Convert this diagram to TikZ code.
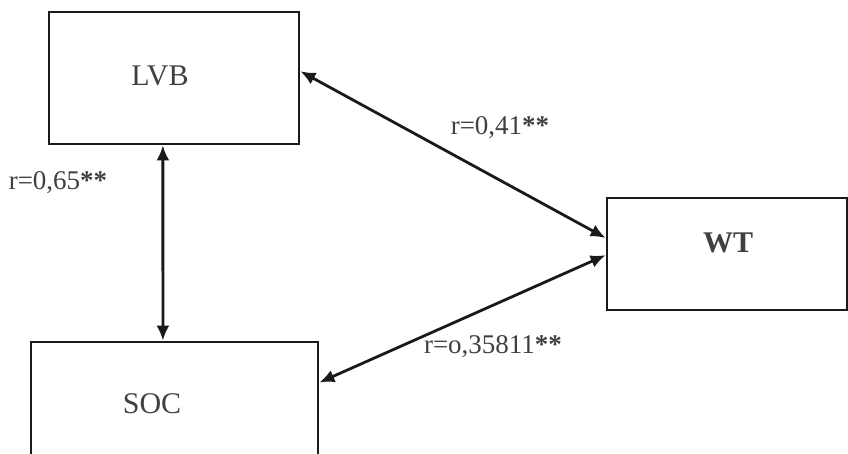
\documentclass[tikz,border=0pt]{standalone}
\usepackage{fontspec}
\setmainfont{Liberation Serif}
\usetikzlibrary{arrows.meta,calc}
\definecolor{txt}{HTML}{404040}
\definecolor{ln}{HTML}{1A1A1A}
\begin{document}
\begin{tikzpicture}[x=1pt,y=-1pt,
  box/.style={draw=ln,line width=2.8pt,rectangle,inner sep=0pt},
  boxtext/.style={text=txt,font=\fontsize{30}{33}\selectfont,inner sep=0pt},
  corr/.style={text=txt,font=\fontsize{27}{30}\selectfont,inner sep=0pt},
  link/.style={draw=ln,line width=2.8pt,{Latex[length=15pt,width=13pt]}-{Latex[length=15pt,width=13pt]}}]
\useasboundingbox (0,0) rectangle (848,454);
\clip (0,0) rectangle (848,454);
\fill[white] (0,0) rectangle (848,454);
% boxes
\node[box,minimum width=250pt,minimum height=132pt] (lvb) at (174,78) {};
\node[box,minimum width=287pt,minimum height=128pt] (soc) at (174.5,406) {};
\node[box,minimum width=240pt,minimum height=112pt] (wt) at (727,254) {};
% box texts
\node[boxtext] (lvbt) at (160,76) {LVB};
\node[boxtext] (soct) at (152,404) {SOC};
\node[boxtext,font=\fontsize{30}{33}\selectfont\bfseries] (wtt) at (728,243) {WT};
% connectors
\coordinate (lvbE) at ($(lvb.north east)!0.45!(lvb.south east)$);
\coordinate (lvbS) at ($(lvb.south west)!0.456!(lvb.south east)$);
\coordinate (socN) at ($(soc.north west)!0.46!(soc.north east)$);
\coordinate (socE) at ($(soc.north east)!0.32!(soc.south east)$);
\coordinate (wtA) at ($(wt.north west)!0.36!(wt.south west)$);
\coordinate (wtB) at ($(wt.north west)!0.51!(wt.south west)$);
\draw[link] (lvbS) -- (socN);
\draw[link] (lvbE) -- (wtA);
\draw[link] (socE) -- (wtB);
% labels
\node[corr] (r1) at (58,183) {r=0,65{\bfseries **}};
\node[corr] (r2) at (500,128) {r=0,41{\bfseries **}};
\node[corr] (r3) at (493,347) {r=o,35811{\bfseries **}};
\end{tikzpicture}
\end{document}
